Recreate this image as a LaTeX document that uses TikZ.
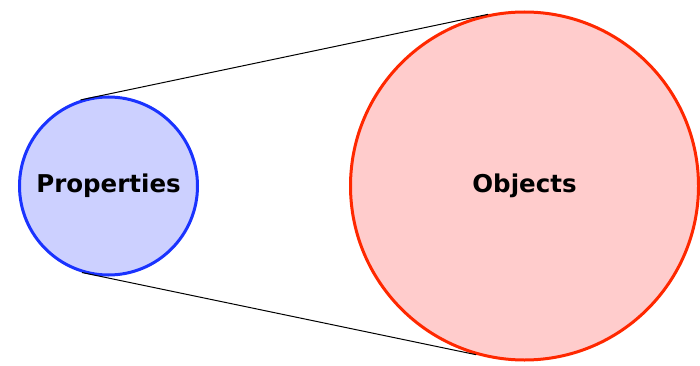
\documentclass[tikz,border=0pt]{standalone}
\usepackage{fontspec}
\setmainfont{DejaVu Sans}
\definecolor{pfill}{RGB}{204,208,255}
\definecolor{pline}{RGB}{26,51,255}
\definecolor{ofill}{RGB}{255,204,204}
\definecolor{oline}{RGB}{255,40,0}
\begin{document}
\begin{tikzpicture}[x=1pt,y=-1pt,
  setcirc/.style={circle,inner sep=0pt,line width=3pt,font=\bfseries\fontsize{24.5}{28}\selectfont},
  conn/.style={line width=1pt,black}]
\useasboundingbox (0,0) rectangle (700,366);
\node[setcirc,draw=pline,fill=pfill,minimum size=178pt] (p) at (108.5,186) {Properties};
\node[setcirc,draw=oline,fill=ofill,minimum size=348pt] (o) at (524.5,186) {Objects};
\draw[conn] (p.108.9) -- (o.102.6);
\draw[conn] (p.253.5) -- (o.254);
\end{tikzpicture}
\end{document}
